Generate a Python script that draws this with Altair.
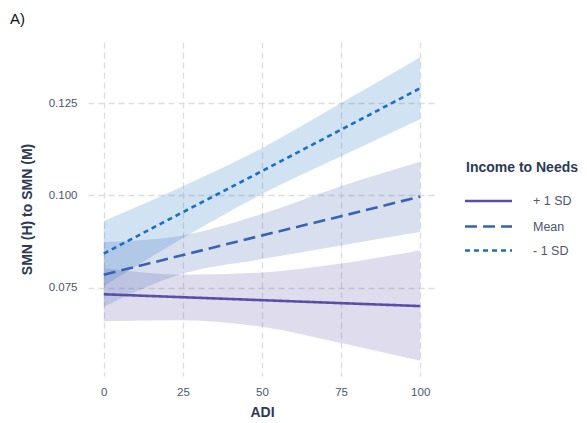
import altair as alt
import pandas as pd

# ---- data ----
adi = [0, 25, 50, 75, 100]
groups = ["+ 1 SD", "Mean", "- 1 SD"]
legend_title = "Income to Needs"

fit_plus = [0.0733, 0.0725, 0.0717, 0.0709, 0.0701]
lo_plus = [0.0660, 0.0663, 0.0645, 0.0601, 0.0553]
hi_plus = [0.0803, 0.0786, 0.0792, 0.0816, 0.0852]

fit_mean = [0.0786, 0.0839, 0.0892, 0.0944, 0.0997]
lo_mean = [0.0699, 0.0789, 0.0828, 0.0865, 0.0901]
hi_mean = [0.0874, 0.0892, 0.0950, 0.1025, 0.1091]

fit_minus = [0.0843, 0.0955, 0.1066, 0.1178, 0.1290]
lo_minus = [0.0755, 0.0885, 0.1004, 0.1106, 0.1206]
hi_minus = [0.0931, 0.1025, 0.1128, 0.1250, 0.1374]

y_ticks = [0.075, 0.100, 0.125]
x_ticks = [0, 25, 50, 75, 100]

# ---- styles ----
colors = ["#5a4ea6", "#3a62b4", "#1b6ec2"]
dashes = [[1, 0], [12, 6], [5, 4]]
text_dark = "#2b3a55"
text_mid = "#4b5670"
FONT = "Liberation Sans"

rows = []
for g, f, lo, hi in [
    ("+ 1 SD", fit_plus, lo_plus, hi_plus),
    ("Mean", fit_mean, lo_mean, hi_mean),
    ("- 1 SD", fit_minus, lo_minus, hi_minus),
]:
    for a, fv, l, h in zip(adi, f, lo, hi):
        rows.append({"ADI": a, "group": g, "band": g, "fit": fv, "lo": l, "hi": h})
df = pd.DataFrame(rows)

x = alt.X(
    "ADI:Q",
    scale=alt.Scale(domain=[-5, 105], nice=False, zero=False),
    axis=alt.Axis(values=x_ticks, title="ADI", labelPadding=10, titlePadding=8),
)
y_scale = alt.Scale(domain=[0.0512, 0.1415], nice=False, zero=False)

bands = alt.Chart(df).mark_area(opacity=0.2, interpolate="monotone").encode(
    x=x,
    y=alt.Y("lo:Q", scale=y_scale),
    y2="hi:Q",
    fill=alt.Fill("band:N", scale=alt.Scale(domain=groups, range=colors), legend=None),
)

lines = alt.Chart(df).mark_line(strokeWidth=2.6).encode(
    x=x,
    y=alt.Y(
        "fit:Q",
        scale=y_scale,
        axis=alt.Axis(values=y_ticks, format=".3f", title="SMN (H) to SMN (M)",
                      labelPadding=11, titlePadding=14),
    ),
    color=alt.Color("group:N", scale=alt.Scale(domain=groups, range=colors), legend=None),
    strokeDash=alt.StrokeDash("group:N", scale=alt.Scale(domain=groups, range=dashes), legend=None),
)

# ---- legend (drawn as guide marks to the right of the panel) ----
legend_layers = [
    alt.Chart(pd.DataFrame({"t": [legend_title]}))
    .mark_text(align="left", baseline="middle", font=FONT, fontSize=14,
               fontWeight="bold", color=text_dark)
    .encode(x=alt.value(378), y=alt.value(126), text="t:N")
]
key_y = [159, 184.5, 208.5]
for g, c, d, ky in zip(groups, colors, dashes, key_y):
    gdf = pd.DataFrame({"g": [g]})
    legend_layers.append(
        alt.Chart(gdf).mark_rule(strokeWidth=2.6, color=c, strokeDash=d)
        .encode(x=alt.value(377), x2=alt.value(424), y=alt.value(ky))
    )
    legend_layers.append(
        alt.Chart(gdf).mark_text(align="left", baseline="middle", font=FONT,
                                 fontSize=12.5, color=text_mid)
        .encode(x=alt.value(445), y=alt.value(ky), text="g:N")
    )

chart = (
    alt.layer(bands, lines, *legend_layers)
    .properties(
        width=348,
        height=334,
        padding={"left": 10, "top": 12, "right": 0, "bottom": 0},
        title=alt.TitleParams(
            "A)", anchor="start", frame="group", dx=-78, offset=15,
            fontSize=15, fontWeight="normal", color="#111111", font=FONT,
        ),
    )
    .configure_view(stroke=None)
    .configure_axis(
        grid=True,
        gridDash=[6, 4],
        gridColor="#dddddd",
        gridWidth=1.3,
        domain=False,
        ticks=False,
        labelFont=FONT,
        titleFont=FONT,
        labelFontSize=11.5,
        labelColor=text_mid,
        titleFontSize=14,
        titleFontWeight="bold",
        titleColor=text_dark,
    )
)

chart.save("out.html", embed_options={"renderer": "svg", "actions": False})
